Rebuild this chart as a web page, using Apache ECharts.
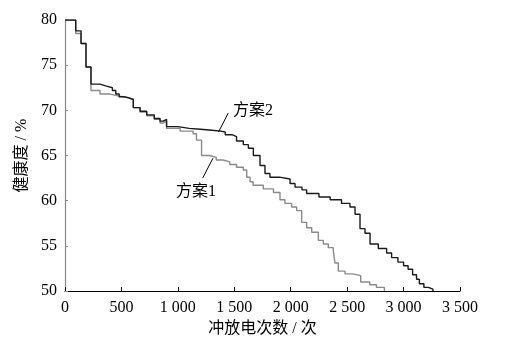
<!DOCTYPE html>
<html>
<head>
<meta charset="utf-8">
<script src="https://cdn.jsdelivr.net/npm/echarts@6/dist/echarts.min.js"></script>
<style>
  html, body { margin: 0; padding: 0; background: #fff; }
  #chart { width: 521px; height: 354px; }
</style>
</head>
<body>
<div id="chart"></div>
<script>
// 方案2 (black) : [cycles, health %], each level starts at the given cycle count
var plan2 = [
  [0, 80], [95, 78.8], [142, 77.4], [186, 74.8], [230, 72.9], [310, 72.7], [360, 72.5],
  [420, 72.2], [450, 71.8], [480, 71.5], [520, 71.4], [560, 71.2], [605, 70.3],
  [665, 69.9], [724, 69.5], [791, 69.1], [842, 68.8], [870, 69.0], [900, 68.2],
  [1000, 68.0], [1100, 67.9], [1200, 67.8], [1300, 67.7], [1380, 67.6], [1420, 67.3],
  [1480, 67.1], [1520, 66.6], [1580, 66.2], [1625, 65.8], [1669, 65.0], [1728, 63.9],
  [1772, 63.0], [1816, 62.6], [1900, 62.4], [1994, 61.9], [2038, 61.5], [2100, 61.2],
  [2141, 60.8], [2250, 60.4], [2350, 60.1], [2450, 59.7], [2525, 59.3], [2570, 58.5],
  [2614, 56.9], [2658, 56.4], [2703, 55.2], [2776, 54.7], [2850, 54.2], [2894, 53.7],
  [2950, 53.2], [3000, 52.8], [3040, 52.4], [3080, 51.8], [3115, 51.3], [3140, 50.8],
  [3180, 50.4], [3220, 50.2], [3260, 50.0]
];

// 方案1 (gray)
var plan1 = [
  [0, 80], [95, 78.5], [142, 77.4], [186, 74.8], [230, 72.2], [310, 71.8], [400, 71.6],
  [470, 71.4], [560, 71.2], [605, 70.3], [665, 69.8], [724, 69.4], [791, 69.0],
  [842, 68.6], [870, 68.8], [900, 68.0], [1020, 67.7], [1135, 67.4], [1165, 66.7],
  [1210, 65.0], [1280, 64.8], [1340, 64.5], [1400, 64.3], [1460, 64.0], [1520, 63.7],
  [1580, 63.4], [1610, 62.6], [1640, 62.1], [1667, 61.7], [1757, 61.3], [1847, 60.9],
  [1905, 60.1], [1949, 59.7], [2008, 59.3], [2053, 58.9], [2097, 57.6], [2141, 57.0],
  [2186, 56.5], [2245, 55.6], [2289, 55.2], [2333, 54.8], [2377, 54.5], [2392, 53.1],
  [2422, 52.2], [2481, 51.9], [2550, 51.7], [2620, 51.0], [2700, 50.7], [2760, 50.4],
  [2830, 50.0]
];

var seriesNames = ['方案1', '方案2'];

// callouts: [label, line start (on curve), line end, text anchor]
var callouts = [
  ['方案2', [1360, 67.6], [1447, 69.7], [1489, 70.0]],
  ['方案1', [1311, 64.7], [1220, 62.5], [983, 61.0]]
];

var serif = '"Liberation Serif", "Times New Roman", "Noto Sans CJK SC", serif';

var myChart = echarts.init(document.getElementById('chart'));

myChart.setOption({
  animation: false,
  grid: { left: 65, right: 61, top: 20, bottom: 63 },
  xAxis: {
    type: 'value',
    min: 0,
    max: 3500,
    interval: 500,
    name: '冲放电次数 / 次',
    nameLocation: 'middle',
    nameGap: 29,
    nameTextStyle: { fontSize: 16, color: '#000', fontFamily: serif },
    axisLine: { lineStyle: { color: '#000', width: 1 } },
    axisTick: { inside: true, length: 4, lineStyle: { color: '#000' } },
    axisLabel: {
      fontSize: 16, color: '#000', fontFamily: serif, margin: 9,
      formatter: function (v) { return v >= 1000 ? Math.floor(v / 1000) + ' ' + String(v % 1000).padStart(3, '0') : String(v); }
    },
    splitLine: { show: false }
  },
  yAxis: {
    type: 'value',
    min: 50,
    max: 80,
    interval: 5,
    name: '健康度 / %',
    nameLocation: 'middle',
    nameGap: 32,
    nameTextStyle: { fontSize: 16, color: '#000', fontFamily: serif },
    axisLine: { show: true, lineStyle: { color: '#888', width: 1.2 } },
    axisTick: { show: true, inside: true, length: 3, lineStyle: { color: '#888' } },
    axisLabel: { fontSize: 16, color: '#000', fontFamily: serif, margin: 8 },
    splitLine: { show: false }
  },
  series: [
    {
      name: seriesNames[0],
      type: 'line',
      step: 'end',
      data: plan1,
      symbol: 'none',
      lineStyle: { color: '#8a8a8a', width: 1.4 },
      z: 2
    },
    {
      name: seriesNames[1],
      type: 'line',
      step: 'end',
      data: plan2,
      symbol: 'none',
      lineStyle: { color: '#1a1a1a', width: 1.4 },
      z: 3
    }
  ]
});

// callout labels and leader lines
var elements = [];
callouts.forEach(function (c) {
  var a = myChart.convertToPixel({ gridIndex: 0 }, c[1]);
  var b = myChart.convertToPixel({ gridIndex: 0 }, c[2]);
  var t = myChart.convertToPixel({ gridIndex: 0 }, c[3]);
  elements.push({
    type: 'line',
    shape: { x1: a[0], y1: a[1], x2: b[0], y2: b[1] },
    style: { stroke: '#000', lineWidth: 1 },
    z: 10
  });
  elements.push({
    type: 'text',
    x: t[0],
    y: t[1],
    style: {
      text: c[0], fontSize: 16, fill: '#000', fontFamily: serif,
      verticalAlign: 'middle', align: 'left'
    },
    z: 10
  });
});
myChart.setOption({ graphic: elements });
</script>
</body>
</html>
